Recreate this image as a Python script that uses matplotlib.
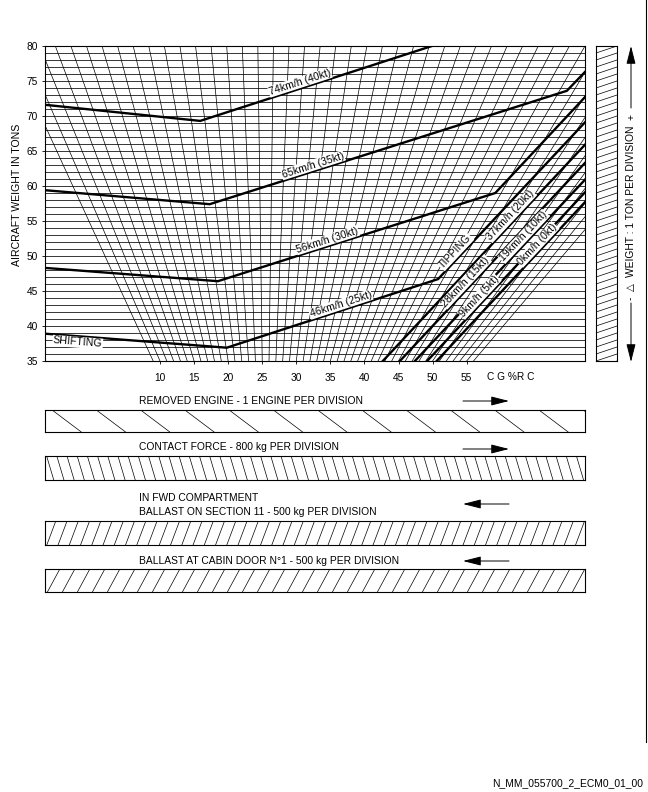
import numpy as np
import matplotlib.pyplot as plt

plt.rcParams['font.family'] = ['Liberation Sans', 'DejaVu Sans']

# --- chart scales -------------------------------------------------------
weight_min, weight_max = 35, 80
weight_ticks = list(range(35, 81, 5))
cg_ticks = [10, 15, 20, 25, 30, 35, 40, 45, 50, 55]
cg_lines = list(range(9, 57))        # one fan line per 1 % RC
cg_pivot = 25.5                      # the CG line that stays vertical
x_left, x_right = -6.87, 72.36       # CG index (read at 35 t) at chart edges

# --- wind limit curves: CG index (read at 35 t) / weight in tons --------
kt40_x = [-6.87, 15.9, 49.9]
kt40_w = [71.6, 69.3, 80.0]
kt35_x = [-6.87, 17.3, 69.7, 72.36]
kt35_w = [59.4, 57.4, 73.6, 76.3]
kt30_x = [-6.87, 18.5, 59.2, 72.36]
kt30_w = [48.3, 46.4, 59.0, 72.7]
kt25_x = [-6.87, 19.8, 50.8, 72.36]
kt25_w = [38.9, 36.9, 46.7, 69.1]
kt20_x = [42.7, 72.36]
kt20_w = [35.0, 65.9]
kt15_x = [45.2, 72.36]
kt15_w = [35.0, 63.3]
kt10_x = [47.4, 72.36]
kt10_w = [35.0, 60.9]
kt5_x = [49.2, 72.36]
kt5_w = [35.0, 59.1]
kt0_x = [50.6, 72.36]
kt0_w = [35.0, 57.7]

# label text, curve, CG index where it sits
labels = [
    ('74km/h (40kt)', kt40_x, kt40_w, 30.8),
    ('65km/h (35kt)', kt35_x, kt35_w, 32.7),
    ('56km/h (30kt)', kt30_x, kt30_w, 34.8),
    ('46km/h (25kt)', kt25_x, kt25_w, 36.8),
    ('SHIFTING', kt25_x, kt25_w, -2.0),
    ('TIPPING', kt25_x, kt25_w, 54.0),
    ('37km/h (20kt)', kt20_x, kt20_w, 62.1),
    ('28km/h (15kt)', kt15_x, kt15_w, 55.5),
    ('19km/h (10kt)', kt10_x, kt10_w, 64.0),
    ('9km/h (5kt)', kt5_x, kt5_w, 57.5),
    ('0km/h (0kt)', kt0_x, kt0_w, 66.0),
]

# --- correction strips --------------------------------------------------
strip_titles = ['REMOVED ENGINE - 1 ENGINE PER DIVISION',
                'CONTACT FORCE - 800 kg PER DIVISION',
                'BALLAST ON SECTION 11 - 500 kg PER DIVISION',
                'BALLAST AT CABIN DOOR N°1 - 500 kg PER DIVISION']
strip_divisions = [12.2, 53, 48, 36]
strip_slant = ['\\', '\\', '/', '/']
strip_arrow = ['right', 'right', 'left', 'left']

W, H = 648, 792


def box(x0, y0, x1, y1):
    return [x0 / W, 1 - y1 / H, (x1 - x0) / W, (y1 - y0) / H]


fig = plt.figure(figsize=(W / 100, H / 100), dpi=100)

# main chart
ax = fig.add_axes(box(45, 46, 585, 361))
ax.set_xlim(x_left, x_right)
ax.set_ylim(weight_min, weight_max)

for w in range(weight_min, weight_max + 1):
    ax.axhline(w, color='black', lw=0.55, zorder=1)
for c in cg_lines:
    top = cg_pivot + (c - cg_pivot) * weight_max / weight_min
    ax.plot([c, top], [weight_min, weight_max], color='black', lw=0.5, zorder=1)

curves = [(kt40_x, kt40_w), (kt35_x, kt35_w), (kt30_x, kt30_w), (kt25_x, kt25_w),
          (kt20_x, kt20_w), (kt15_x, kt15_w), (kt10_x, kt10_w), (kt5_x, kt5_w),
          (kt0_x, kt0_w)]
for xs, ws in curves:
    ax.plot(xs, ws, color='black', lw=1.7, solid_joinstyle='miter', zorder=3)

for text, xs, ws, lx in labels:
    ly = np.interp(lx, xs, ws)
    i = int(np.clip(np.searchsorted(xs, lx) - 1, 0, len(xs) - 2))
    p1 = ax.transData.transform((xs[i], ws[i]))
    p2 = ax.transData.transform((xs[i + 1], ws[i + 1]))
    ang = np.arctan2(p2[1] - p1[1], p2[0] - p1[0])
    off = -6 if text == 'SHIFTING' else 6
    pc = ax.transData.transform((lx, ly)) + off * np.array([-np.sin(ang), np.cos(ang)])
    tx, ty = ax.transData.inverted().transform(pc)
    ax.text(tx, ty, text, rotation=np.degrees(ang), rotation_mode='anchor',
            ha='center', va='center', fontsize=7.6, zorder=4,
            bbox=dict(fc='white', ec='none', pad=0.4))

ax.set_xticks(cg_ticks)
ax.set_yticks(weight_ticks)
ax.tick_params(axis='both', direction='out', length=2.2, width=0.6, labelsize=7.3)
ax.tick_params(axis='x', pad=6.3)
ax.tick_params(axis='y', pad=2.8)
for s in ax.spines.values():
    s.set_linewidth(0.8)
ax.text(61.4, -0.051, 'C G %R C', transform=ax.get_xaxis_transform(),
        ha='center', va='center', fontsize=7.3)
fig.text(17 / W, 1 - 195 / H, 'AIRCRAFT WEIGHT IN TONS', rotation=90,
         ha='center', va='center', fontsize=7.6)

# weight bar, 1 ton per division
bar = fig.add_axes(box(596, 46, 617, 361))
bar.set_xlim(0, 1)
bar.set_ylim(weight_min, weight_max)
for w in range(weight_min - 1, weight_max + 1):
    bar.plot([0, 1], [w, w + 1], color='black', lw=0.5)
bar.set_xticks([])
bar.set_yticks([])
for s in bar.spines.values():
    s.set_linewidth(0.8)

# strips
strip_boxes = [(410, 432), (456, 480), (521, 545), (569, 592)]
strip_run = [0.66, 0.7, 0.8, 0.83]
for (y0, y1), n, slant, run in zip(strip_boxes, strip_divisions, strip_slant, strip_run):
    sa = fig.add_axes(box(45, y0, 585, y1))
    sa.set_xlim(0, n)
    sa.set_ylim(0, 1)
    for i in range(-2, int(np.ceil(n)) + 2):
        x = i + 0.16
        if slant == '\\':
            sa.plot([x, x + run], [1, 0], color='black', lw=0.5)
        else:
            sa.plot([x, x + run], [0, 1], color='black', lw=0.5)
    sa.set_xticks([])
    sa.set_yticks([])
    for s in sa.spines.values():
        s.set_linewidth(0.8)

# texts and arrows on top of everything
over = fig.add_axes([0, 0, 1, 1])
over.set_xlim(0, W)
over.set_ylim(H, 0)
over.axis('off')
over.patch.set_alpha(0)

arrow_style = dict(arrowstyle='-|>,head_length=1.1,head_width=0.28', color='black',
                   lw=0.7, mutation_scale=10, shrinkA=0, shrinkB=0)


def arrow(x0, y0, x1, y1):
    over.annotate('', xy=(x1, y1), xytext=(x0, y0), arrowprops=arrow_style)


title_y = [401, 447, 512, 561]
arrow_y = [401, 449, 504, 561]
for t, ty, ay, d in zip(strip_titles, title_y, arrow_y, strip_arrow):
    over.text(139, ty, t, fontsize=7.4, va='center', ha='left')
    if d == 'right':
        arrow(463, ay, 509, ay)
    else:
        arrow(509, ay, 463, ay)
over.text(139, 498, 'IN FWD COMPARTMENT', fontsize=7.4, va='center', ha='left')

# weight bar legend
over.text(631, 201, 'WEIGHT : 1 TON PER DIVISION', rotation=90, fontsize=7.4,
          ha='center', va='center')
over.text(631, 117, '+', rotation=90, fontsize=7.4, ha='center', va='center')
over.text(631, 287, '△', rotation=90, fontsize=7.4, ha='center', va='center')
over.text(631, 298, '-', rotation=90, fontsize=7.4, ha='center', va='center')
arrow(631, 108, 631, 46)
arrow(631, 303, 631, 362)

over.plot([645.5, 645.5], [0, 742], color='black', lw=0.8)
over.text(643, 783, 'N_MM_055700_2_ECM0_01_00', fontsize=7.4, ha='right', va='center')

fig.savefig('out.png', dpi=100)
